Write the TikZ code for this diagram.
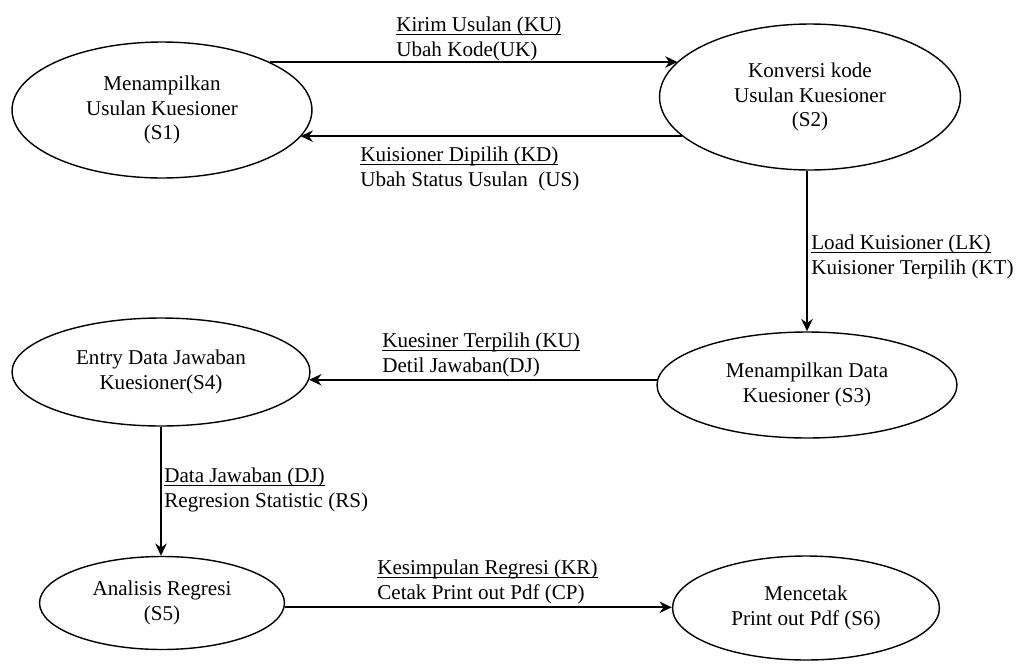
\documentclass[tikz,border=0pt]{standalone}
\usepackage{fontspec}
\setmainfont{Liberation Serif}
\usetikzlibrary{shapes.geometric,arrows.meta}
\tikzset{>={Stealth[length=7pt,width=6.5pt]}}
\newcommand{\uline}[1]{\underline{\raisebox{0pt}[\height][0pt]{#1}}}
\tikzset{
  state/.style={draw, ellipse, line width=0.8pt, inner sep=0pt, align=center,
    font=\rmfamily\fontsize{12}{14}\selectfont},
  lbl/.style={anchor=north west, inner sep=0pt, align=left,
    font=\rmfamily\fontsize{12}{14}\selectfont},
  flow/.style={->, line width=1pt}
}

\begin{document}
\begin{tikzpicture}[x=0.02cm, y=-0.02cm]
    \useasboundingbox (0,0) rectangle (1019,664);

    %states
    \node[state, minimum width=6cm, minimum height=2.72cm] (s1) at (162,110)
        {Menampilkan\\Usulan Kuesioner\\(S1)};
    \node[state, minimum width=6.02cm, minimum height=2.92cm] (s2) at (810,97)
        {Konversi kode\\Usulan Kuesioner\\(S2)};
    \node[state, minimum width=6cm, minimum height=2.12cm] (s3) at (807,385)
        {Menampilkan Data\\Kuesioner (S3)};
    \node[state, minimum width=5.96cm, minimum height=2.16cm] (s4) at (161,372)
        {Entry Data Jawaban\\Kuesioner(S4)};
    \node[state, minimum width=4.9cm, minimum height=1.86cm] (s5) at (162,603)
        {Analisis Regresi\\(S5)};
    \node[state, minimum width=5.34cm, minimum height=2.08cm] (s6) at (806,608)
        {Mencetak\\Print out Pdf (S6)};

    %transitions
    \draw[flow] (s1.24) -- (s1.24 -| s2.165);
    \draw[flow] (s2.197) -- (s2.197 -| s1.349);
    \draw[flow] (s2.south -| s3.north) -- (s3.north);
    \draw[flow] (s3.178) -- (s3.178 -| s4.357);
    \draw[flow] (s4.south) -- (s4.south |- s5.north);
    \draw[flow] (s5.358) -- (s5.358 -| s6.west);

    %labels
    \node[lbl] (lku) at (396,17) {\uline{Kirim Usulan (KU)}\\Ubah Kode(UK)};
    \node[lbl] (lkd) at (360,147) {\uline{Kuisioner Dipilih (KD)}\\Ubah Status Usulan\ \ (US)};
    \node[lbl] (llk) at (811,235) {\uline{Load Kuisioner (LK)}\\Kuisioner Terpilih (KT)};
    \node[lbl] (lkt) at (382,333) {\uline{Kuesiner Terpilih (KU)}\\Detil Jawaban(DJ)};
    \node[lbl] (ldj) at (164,468) {\uline{Data Jawaban (DJ)}\\Regresion Statistic (RS)};
    \node[lbl] (lkr) at (377,560) {\uline{Kesimpulan Regresi (KR)}\\Cetak Print out Pdf (CP)};

\end{tikzpicture}
\end{document}
